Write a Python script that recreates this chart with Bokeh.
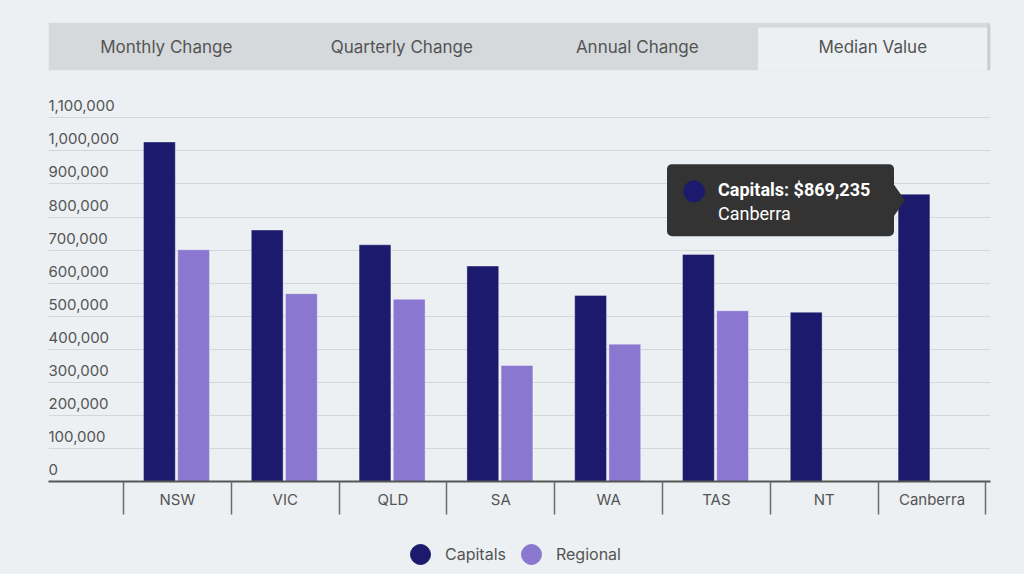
import numpy as np
from bokeh.plotting import figure
from bokeh.models import (ColumnDataSource, Range1d, LinearAxis, FixedTicker,
                          Legend, LegendItem, Grid)
from bokeh.layouts import column
from bokeh.transform import dodge
from bokeh.core.properties import value
from bokeh.embed import file_html
from bokeh.resources import INLINE

# ---------------- data ----------------
states = ["NSW", "VIC", "QLD", "SA", "WA", "TAS", "NT", "Canberra"]
capitals = [1027000, 760500, 716000, 651500, 563000, 687000, 512000, 869235]
regional = [701000, 568000, 551000, 351000, 415500, 516500, None, None]
series = ["Capitals", "Regional"]
y_ticks = [0, 100000, 200000, 300000, 400000, 500000, 600000,
           700000, 800000, 900000, 1000000, 1100000]
tabs = ["Monthly Change", "Quarterly Change", "Annual Change", "Median Value"]
active_tab = "Median Value"
tip_state = "Canberra"

# ---------------- styles ----------------
BG = "#ecf0f3"
TAB_BG = "#d5d9dc"
TEXT = "#545454"
GRID = "#d3d7db"
COLORS = ["#1b1a6d", "#8a77d0"]
FONT = "Inter"
TIP_FONT = "Roboto"

n = len(states)
W_TOTAL = 1024
BORDER_L = 48
BORDER_R = 34

# main frame geometry (pixels)
FRAME_W = W_TOTAL - BORDER_L - BORDER_R
FRAME_H = 401
PXX = 107.8                   # pixels per category
X_LEFT = -0.5 - 75 / PXX
X_RIGHT = X_LEFT + FRAME_W / PXX
Y_TOP = 1_213_000
PXY = FRAME_H / Y_TOP         # pixels per value unit
OFF_C = -18 / PXX
OFF_R = 16.2 / PXX
BAR_W = 31.8 / PXX

# ---------------- tabs ----------------
tf = figure(width=W_TOTAL, height=74, x_range=Range1d(0, len(tabs)), y_range=Range1d(0, 1),
            x_axis_location=None, y_axis_location=None, toolbar_location=None,
            output_backend="svg", min_border_left=BORDER_L, min_border_right=BORDER_R,
            min_border_top=22, min_border_bottom=4)
tf.grid.visible = False
tf.outline_line_color = None
tf.background_fill_color = BG
tf.border_fill_color = BG
TPX = FRAME_W / len(tabs)
tf.quad(left=0, right=len(tabs), bottom=0, top=1, fill_color=TAB_BG, line_color=None)
ai = tabs.index(active_tab)
tf.quad(left=ai + 3 / TPX, right=ai + 1 - 3 / TPX, bottom=0, top=1 - 5 / 48,
        fill_color=BG, line_color=None)
tf.quad(left=ai + 1 - 3 / TPX, right=ai + 1, bottom=0, top=1 - 2 / 48,
        fill_color="#c9cdd1", line_color=None)
tf.text(x=[i + 0.5 for i in range(len(tabs))], y=[0.5] * len(tabs), text=tabs,
        text_align="center", text_baseline="middle", text_font=value(FONT),
        text_font_size="17px", text_color=TEXT)

# ---------------- main chart ----------------
p = figure(width=W_TOTAL, height=446, x_range=Range1d(X_LEFT, X_RIGHT),
           y_range=Range1d(0, Y_TOP), x_axis_location=None, y_axis_location=None,
           toolbar_location=None, output_backend="svg",
           min_border_left=BORDER_L, min_border_right=BORDER_R,
           min_border_top=6, min_border_bottom=39)
p.grid.visible = False
p.outline_line_color = None
p.background_fill_color = BG
p.border_fill_color = BG

p.add_layout(Grid(dimension=1, ticker=FixedTicker(ticks=y_ticks),
                  grid_line_color=GRID, grid_line_width=1))

src = ColumnDataSource(dict(
    x=list(range(n)), state=states, capitals=capitals,
    regional=[np.nan if v is None else v for v in regional]))

p.vbar(x=dodge("x", OFF_C, range=p.x_range), top="capitals", bottom=0, width=BAR_W,
       source=src, fill_color=COLORS[0], line_color="white", line_alpha=0.35)
p.vbar(x=dodge("x", OFF_R, range=p.x_range), top="regional", bottom=0, width=BAR_W,
       source=src, fill_color=COLORS[1], line_color="white", line_alpha=0.35)

# y labels (left aligned, above grid lines)
p.text(x=[X_LEFT] * len(y_ticks), y=y_ticks, text=[f"{v:,}" for v in y_ticks],
       text_align="left", text_baseline="alphabetic", y_offset=-12,
       text_font=value(FONT), text_font_size="15px", text_color=TEXT)

# x axis: labels at centres, separator ticks at boundaries
xaxis = LinearAxis(
    ticker=FixedTicker(ticks=list(range(n)), minor_ticks=[i - 0.5 for i in range(n + 1)]),
    major_label_overrides={i: s for i, s in enumerate(states)},
    major_tick_in=0, major_tick_out=0, minor_tick_in=0, minor_tick_out=33,
    minor_tick_line_color="#6b6b6b", minor_tick_line_width=1.5,
    axis_line_color="#555555", axis_line_width=2, major_label_standoff=-25,
    major_label_text_font=FONT, major_label_text_font_size="15px",
    major_label_text_color=TEXT)
p.add_layout(xaxis, "below")

# tooltip anchored on the Canberra capitals bar
ti = states.index(tip_state)
ax = ti + OFF_C
ay = capitals[ti]
def dx(px):
    return ax + px / PXX
def dy(px):
    return ay + px / PXY

p.quad(left=dx(-247), right=dx(-20), top=dy(30), bottom=dy(-42),
       fill_color="#333333", line_color=None, border_radius=5)
p.patch(x=[dx(-20), dx(-9), dx(-20)], y=[dy(9.5), dy(-6.2), dy(-21.9)],
        fill_color="#333333", line_color=None)
p.scatter(x=[dx(-220)], y=[dy(2.8)], size=21, marker="circle",
          fill_color=COLORS[0], line_color=COLORS[0])
p.text(x=[ax], y=[ay], text=[f"{series[0]}: ${capitals[ti]:,}"], x_offset=-196, y_offset=-4.5,
       text_align="left", text_baseline="alphabetic", text_font=value(TIP_FONT),
       text_font_style="bold", text_font_size="18px", text_color="white")
p.text(x=[ax], y=[ay], text=[tip_state], x_offset=-196, y_offset=19,
       text_align="left", text_baseline="alphabetic", text_font=value(TIP_FONT),
       text_font_size="18px", text_color="white")

# ---------------- legend ----------------
lf = figure(width=W_TOTAL, height=54, x_range=Range1d(0, 1), y_range=Range1d(0, 1),
            x_axis_location=None, y_axis_location=None, toolbar_location=None,
            output_backend="svg", min_border_left=BORDER_L, min_border_right=BORDER_R,
            min_border_top=14, min_border_bottom=0)
lf.grid.visible = False
lf.outline_line_color = None
lf.background_fill_color = BG
lf.border_fill_color = BG
r1 = lf.scatter(x=[np.nan], y=[np.nan], marker="circle", fill_color=COLORS[0], line_color=COLORS[0])
r2 = lf.scatter(x=[np.nan], y=[np.nan], marker="circle", fill_color=COLORS[1], line_color=COLORS[1])
legend = Legend(items=[LegendItem(label=series[0], renderers=[r1]),
                       LegendItem(label=series[1], renderers=[r2])],
                orientation="horizontal", location=(347, -5),
                glyph_width=50, glyph_height=50, label_standoff=0, spacing=-6,
                padding=0, margin=0, border_line_color=None, background_fill_alpha=0,
                label_text_font=FONT, label_text_font_size="16px", label_text_color=TEXT)
lf.add_layout(legend, "center")

layout = column(tf, p, lf)

TEMPLATE = """{% block preamble %}<style>html, body { background: #ecf0f3; }</style>{% endblock %}"""
open("out.html", "w").write(file_html(layout, INLINE, template=TEMPLATE))
